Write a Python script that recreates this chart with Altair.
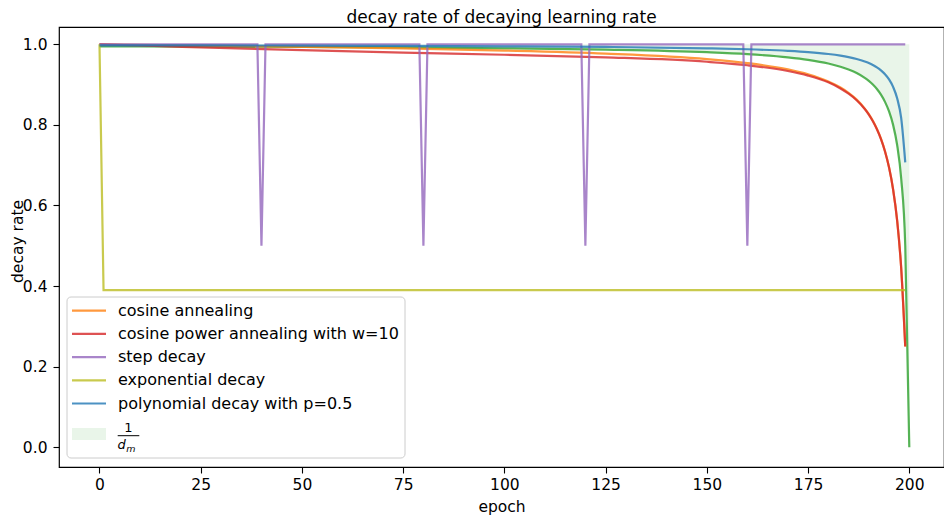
import altair as alt
import pandas as pd

FONT = "DejaVu Sans"

# ---- data ----
EPOCHS = [0, 10, 25, 50, 75, 100, 125, 150, 160, 170, 175, 180, 183, 185, 187,
          189, 190, 191, 192, 193, 194, 195, 196, 197, 198, 199]
COSINE = [1.0, 0.9988, 0.9969, 0.9936, 0.9897, 0.9845, 0.9769, 0.9632, 0.9533,
          0.9377, 0.9255, 0.9076, 0.8926, 0.8794, 0.8626, 0.8405, 0.8269, 0.8101,
          0.7901, 0.7657, 0.7347, 0.6945, 0.6401, 0.5625, 0.4445, 0.2500]
COSINE_POWER = [1.0, 0.9970, 0.9924, 0.9854, 0.9793, 0.9740, 0.9676, 0.9566,
                0.9480, 0.9337, 0.9222, 0.9055, 0.8903, 0.8773, 0.8611, 0.8394,
                0.8255, 0.8090, 0.7891, 0.7649, 0.7340, 0.6940, 0.6397, 0.5622,
                0.4443, 0.2500]
POLY = [0.9975, 0.9974, 0.9972, 0.9967, 0.9960, 0.9950, 0.9934, 0.9901, 0.9877,
        0.9837, 0.9806, 0.9759, 0.9718, 0.9682, 0.9636, 0.9574, 0.9535, 0.9487,
        0.9428, 0.9354, 0.9258, 0.9129, 0.8944, 0.8660, 0.8165, 0.7071]
DM_EPOCHS = EPOCHS + [200]
DM_INV = [0.9950, 0.9948, 0.9943, 0.9934, 0.9921, 0.9901, 0.9868, 0.9804, 0.9756,
          0.9677, 0.9615, 0.9524, 0.9444, 0.9375, 0.9286, 0.9167, 0.9091, 0.9000,
          0.8889, 0.8750, 0.8571, 0.8333, 0.8000, 0.7500, 0.6667, 0.5000, 0.0]
STEP_EPOCHS = [0, 39, 40, 41, 79, 80, 81, 119, 120, 121, 159, 160, 161, 199]
STEP = [1.0, 1.0, 0.5, 1.0, 1.0, 0.5, 1.0, 1.0, 0.5, 1.0, 1.0, 0.5, 1.0, 1.0]
EXP_EPOCHS = [0, 1, 199]
EXP = [1.0, 0.39, 0.39]

X_TICKS = [0, 25, 50, 75, 100, 125, 150, 175, 200]
Y_TICKS = [0.0, 0.2, 0.4, 0.6, 0.8, 1.0]

LEGEND_LABELS = ["cosine annealing", "cosine power annealing with w=10",
                 "step decay", "exponential decay", "polynomial decay with p=0.5"]
LEGEND_COLORS = ["#ff7f0e", "#d62728", "#9467bd", "#bcbd22", "#1f77b4"]
GREEN = "#2ca02c"

W, H = 885, 440
TOP = 19          # padding above the plot area
LW = 2.2
DY = 25 - (TOP + 8)  # shift of the legend layout relative to earlier frame


def frame(epochs, values):
    return pd.DataFrame({"epoch": epochs, "rate": values})


x_enc = alt.X(
    "epoch:Q",
    scale=alt.Scale(domain=[-10, 208.57], nice=False, zero=False),
    axis=alt.Axis(values=X_TICKS, title="epoch", tickSize=6, labelPadding=4,
                  titlePadding=7),
)
y_enc = alt.Y(
    "rate:Q",
    scale=alt.Scale(domain=[-0.049, 1.0429], nice=False, zero=False),
    axis=alt.Axis(values=Y_TICKS, format=".1f", title="decay rate", tickSize=6,
                  labelPadding=6, titleX=-48.5, titleY=214, titleAngle=270,
                  titleBaseline="top", titleAlign="center", titleFontSize=15.5),
)


def line(df, color, interp="monotone"):
    return alt.Chart(df).mark_line(color=color, strokeWidth=LW, opacity=0.8,
                                   interpolate=interp).encode(x=x_enc, y=y_enc)


fill = alt.Chart(frame(DM_EPOCHS, DM_INV)).mark_area(
    color=GREEN, opacity=0.1, interpolate="monotone"
).encode(x=x_enc, y=y_enc, y2=alt.datum(1.0))

layers = [
    fill,
    line(frame(DM_EPOCHS, DM_INV), GREEN),
    line(frame(EPOCHS, COSINE), LEGEND_COLORS[0]),
    line(frame(EPOCHS, COSINE_POWER), LEGEND_COLORS[1]),
    line(frame(STEP_EPOCHS, STEP), LEGEND_COLORS[2], "linear"),
    line(frame(EXP_EPOCHS, EXP), LEGEND_COLORS[3], "linear"),
    line(frame(EPOCHS, POLY), LEGEND_COLORS[4]),
]

# ---- legend (drawn as a box in the lower-left corner) ----
dummy = pd.DataFrame({"k": [0]})
layers.append(
    alt.Chart(dummy).mark_rect(fill="white", fillOpacity=0.8, stroke="#cccccc",
                               strokeWidth=1, cornerRadius=4).encode(
        x=alt.value(8), x2=alt.value(346), y=alt.value(272 + DY),
        y2=alt.value(433 + DY))
)
ROW0, ROWSTEP = 285.7 + DY, 23.2
for i, (lab, col) in enumerate(zip(LEGEND_LABELS, LEGEND_COLORS)):
    yy = ROW0 + ROWSTEP * i
    layers.append(
        alt.Chart(dummy).mark_rule(color=col, strokeWidth=LW, opacity=0.8).encode(
            x=alt.value(13), x2=alt.value(47), y=alt.value(yy))
    )
    layers.append(
        alt.Chart(dummy).mark_text(text=lab, align="left", baseline="middle",
                                   font=FONT, fontSize=16, color="black").encode(
        x=alt.value(59), y=alt.value(yy))
    )
layers.append(
    alt.Chart(dummy).mark_rect(color=GREEN, opacity=0.1).encode(
        x=alt.value(13), x2=alt.value(47), y=alt.value(403 + DY),
        y2=alt.value(415 + DY))
)
layers.append(
    alt.Chart(dummy).mark_text(text="1", align="center", baseline="middle",
                               font=FONT, fontSize=13, color="black").encode(
        x=alt.value(69.5), y=alt.value(402.5 + DY))
)
layers.append(
    alt.Chart(dummy).mark_rule(color="black", strokeWidth=1).encode(
        x=alt.value(58.7), x2=alt.value(80.3), y=alt.value(410.7 + DY))
)
layers.append(
    alt.Chart(dummy).mark_text(text="d", align="left", baseline="alphabetic",
                               font=FONT, fontSize=13, fontStyle="italic",
                               color="black").encode(
        x=alt.value(58.5), y=alt.value(424 + DY))
)
layers.append(
    alt.Chart(dummy).mark_text(text="m", align="left", baseline="alphabetic",
                               font=FONT, fontSize=9.5, fontStyle="italic",
                               color="black").encode(
        x=alt.value(67.3), y=alt.value(426.5 + DY))
)

chart = alt.layer(*layers).properties(
    width=W,
    height=H,
    padding={"left": 51, "top": TOP, "right": 0, "bottom": 48},
    autosize=alt.AutoSizeParams(type="none"),
    title=alt.TitleParams("decay rate of decaying learning rate", font=FONT,
                          fontSize=17, fontWeight="normal", color="black",
                          anchor="middle", offset=0),
).configure_view(
    stroke="black", strokeWidth=1.2
).configure_axis(
    domain=False, grid=False, tickColor="black", tickWidth=1.1,
    labelColor="black", titleColor="black", labelFont=FONT, titleFont=FONT,
    labelFontSize=15.5, titleFontSize=15.5, titleFontWeight="normal",
)

chart.save("out.html", embed_options={"renderer": "svg", "actions": False})
